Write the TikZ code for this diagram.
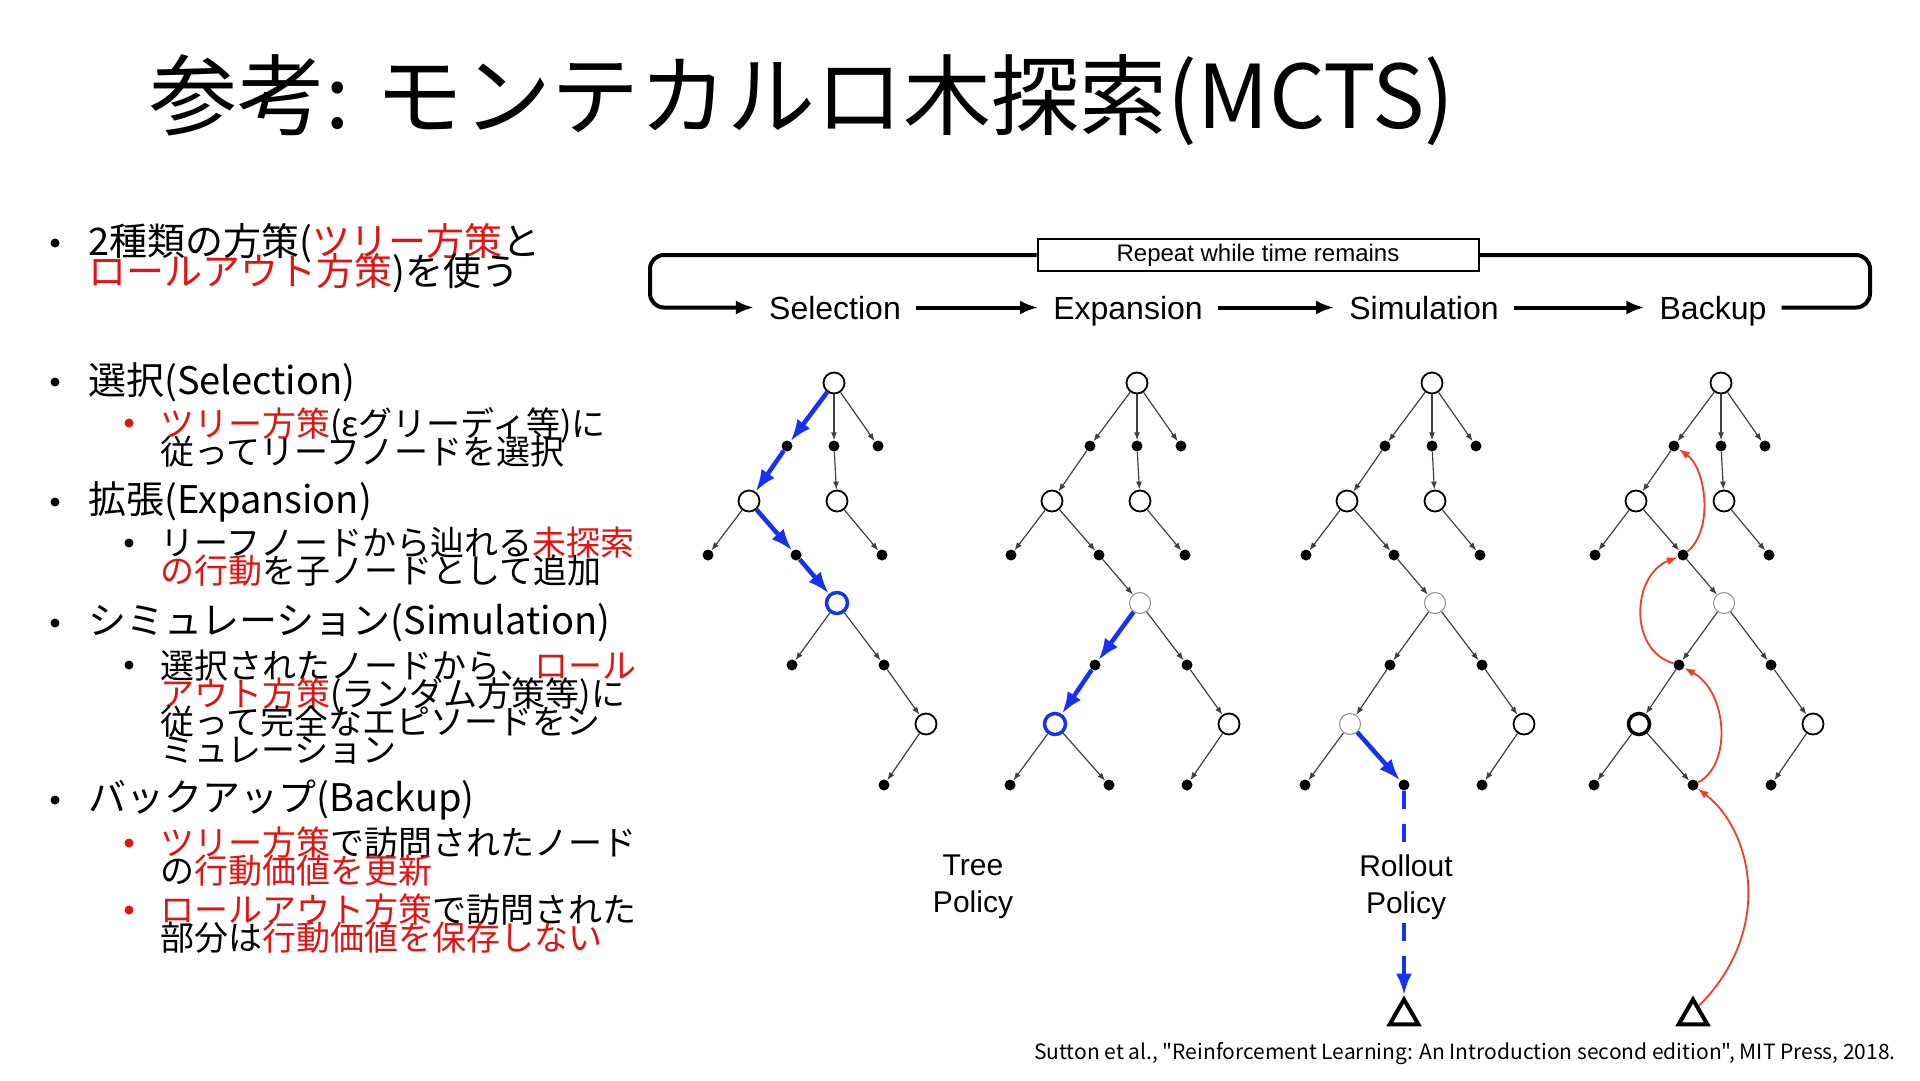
\documentclass[tikz,border=0pt]{standalone}
\usepackage{fontspec}
\setmainfont{Noto Sans CJK JP}
\newfontfamily\hv{Liberation Sans}
\newfontfamily\citefont[Ligatures=TeXOff]{Noto Sans CJK JP}
\usetikzlibrary{arrows.meta,shapes.geometric,positioning}
\definecolor{mctsblue}{RGB}{20,50,240}
\definecolor{mctsred}{RGB}{240,60,40}
\definecolor{txtred}{RGB}{225,20,20}
\newcommand{\rt}[1]{\textcolor{txtred}{#1}}
\newcommand{\tightlines}{\lineskiplimit=-60pt\relax\lineskip=0pt\relax}
% one search tree, #1 name prefix, #2 root x, #3 style of the third state
\newcommand{\mctstree}[3]{%
  \node[state] (#1r) at (#2,383) {};
  \node[act] (#1a1) at ({#2-47},446) {};
  \node[act] (#1a2) at (#2,446) {};
  \node[act] (#1a3) at ({#2+44},446) {};
  \node[state] (#1s1) at ({#2-85},501) {};
  \node[state] (#1s2) at ({#2+3},501) {};
  \node[act] (#1b1) at ({#2-126},555) {};
  \node[act] (#1b2) at ({#2-38},555) {};
  \node[act] (#1b3) at ({#2+48},555) {};
  \node[#3] (#1s3) at ({#2+3},603) {};
  \node[act] (#1c1) at ({#2-42},665) {};
  \node[act] (#1c2) at ({#2+50},665) {};
  \node[state] (#1s5) at ({#2+92},724) {};
  \node[act] (#1d3) at ({#2+50},785) {};
}
\def\basicedges{r/a2,r/a3,a2/s2,s1/b1,s2/b3,s3/c2,c2/s5,s5/d3}
\def\pathedges{r/a1,a1/s1,s1/b2,b2/s3}

\begin{document}
\begin{tikzpicture}[
  x=1pt, y=-1pt,
  state/.style={circle, draw, line width=1.8pt, fill=white, minimum size=21pt, inner sep=0pt},
  faded/.style={state, draw=black!45, line width=1pt},
  bluestate/.style={state, draw=mctsblue, line width=3.5pt},
  boldstate/.style={state, line width=3.5pt},
  act/.style={circle, fill=black, minimum size=11pt, inner sep=0pt},
  terminal/.style={regular polygon, regular polygon sides=3, draw, line width=4pt,
    minimum size=33pt, inner sep=0pt},
  edge/.style={draw=black!75, line width=1.2pt, -{Latex[length=8pt,width=6pt]}},
  sel/.style={draw=mctsblue, line width=4.5pt, -{Latex[length=22pt,width=16pt]}},
  roll/.style={sel, dash pattern=on 18pt off 15pt},
  back/.style={draw=mctsred, line width=1.8pt, -{Latex[length=11pt,width=8pt]}},
  stage/.style={font=\hv\fontsize{32}{36}\selectfont, anchor=base, inner xsep=15pt,
    inner ysep=0pt, text height=23pt, text depth=0pt},
  loopline/.style={line width=4pt, rounded corners=14pt},
  flow/.style={line width=4pt, -{Latex[length=18pt,width=14pt]}},
  pol/.style={font=\hv\fontsize{30}{37}\selectfont, align=center, inner sep=2pt},
  item/.style={anchor=west, align=left, inner sep=0pt,
    font=\fontsize{38}{30}\selectfont\tightlines},
  subitem/.style={anchor=west, align=left, inner sep=0pt,
    font=\fontsize{34}{28}\selectfont\tightlines},
  bul/.style={circle, fill=black, minimum size=9pt, inner sep=0pt},
  rbul/.style={bul, fill=txtred}
]
\useasboundingbox (0,0) rectangle (1920,1080);

\node[anchor=west, inner sep=0pt, font=\fontsize{88}{100}\selectfont] (title) at (149,100)
  {参考: モンテカルロ木探索(MCTS)};

% left column
\node[bul] (p1) at (55,243) {};
\node[item] (t1) at (88,258) {2種類の方策(\rt{ツリー方策}と\\\rt{ロールアウト方策})を使う};
\node[bul] (p2) at (55,382) {};
\node[item] (t2) at (88,382) {選択(Selection)};
\node[rbul] (q2) at (129,423) {};
\node[subitem] (u2) at (160,437) {\rt{ツリー方策}(εグリーディ等)に\\従ってリーフノードを選択};
\node[bul] (p3) at (55,502) {};
\node[item] (t3) at (88,502) {拡張(Expansion)};
\node[bul] (q3) at (129,543) {};
\node[subitem] (u3) at (160,557) {リーフノードから辿れる\rt{未探索}\\\rt{の行動}を子ノードとして追加};
\node[bul] (p4) at (55,623) {};
\node[item] (t4) at (88,623) {シミュレーション(Simulation)};
\node[bul] (q4) at (129,665) {};
\node[subitem] (u4) at (160,707) {選択されたノードから、\rt{ロール}\\\rt{アウト方策}(ランダム方策等)に\\従って完全なエピソードをシ\\ミュレーション};
\node[bul] (p5) at (55,800) {};
\node[item] (t5) at (88,800) {バックアップ(Backup)};
\node[rbul] (q5) at (129,843) {};
\node[subitem] (u5) at (160,857) {\rt{ツリー方策}で訪問されたノード\\の\rt{行動価値を更新}};
\node[rbul] (q6) at (129,910) {};
\node[subitem] (u6) at (160,924) {\rt{ロールアウト方策}で訪問された\\部分は\rt{行動価値を保存しない}};

% cycle header
\node[draw, line width=2pt, minimum width=441pt, minimum height=32pt, inner sep=0pt,
  font=\hv\fontsize{24}{28}\selectfont] (repeat) at (1258,255) {Repeat while time remains};
\node[stage] (hdsel) at (835,319) {Selection};
\node[stage] (hdexp) at (1128,319) {Expansion};
\node[stage] (hdsim) at (1424,319) {Simulation};
\node[stage] (hdbak) at (1713,319) {Backup};
\foreach \f/\t in {hdsel/hdexp, hdexp/hdsim, hdsim/hdbak}
  \draw[flow] (\f) -- (\t);
\draw[loopline, -{Latex[length=18pt,width=14pt]}] (repeat.west) -- (650,255) -- (650,307.5) -- (hdsel.west);
\draw[loopline] (repeat.east) -- (1870,255) -- (1870,307.5) -- (hdbak.east);

% selection
\mctstree{sel}{834}{bluestate}
\foreach \f/\t in \basicedges \draw[edge] (sel\f) -- (sel\t);
\draw[edge] (sels3) -- (selc1);
\foreach \f/\t in \pathedges \draw[sel] (sel\f) -- (sel\t);
\node[pol] (treepol) at (973,887) {Tree\\Policy};

% expansion
\mctstree{exp}{1137}{faded}
\node[bluestate] (exps4) at (1055,724) {};
\node[act] (expd1) at (1010,785) {};
\node[act] (expd2) at (1109,785) {};
\foreach \f/\t in \basicedges \draw[edge] (exp\f) -- (exp\t);
\foreach \f/\t in \pathedges \draw[edge] (exp\f) -- (exp\t);
\draw[edge] (exps4) -- (expd1);
\draw[edge] (exps4) -- (expd2);
\draw[sel] (exps3) -- (expc1);
\draw[sel] (expc1) -- (exps4);

% simulation
\mctstree{sim}{1432}{faded}
\node[faded] (sims4) at (1350,724) {};
\node[act] (simd1) at (1305,785) {};
\node[act] (simd2) at (1404,785) {};
\foreach \f/\t in \basicedges \draw[edge] (sim\f) -- (sim\t);
\foreach \f/\t in \pathedges \draw[edge] (sim\f) -- (sim\t);
\draw[edge] (sims3) -- (simc1);
\draw[edge] (simc1) -- (sims4);
\draw[edge] (sims4) -- (simd1);
\draw[sel] (sims4) -- (simd2);
\node[terminal] (simend) at (1404,1016) {};
\draw[roll] (simd2) -- (simend.corner 1);
\node[pol, fill=white] (rollpol) at (1406,887) {Rollout\\Policy};

% backup
\mctstree{bak}{1721}{faded}
\node[boldstate] (baks4) at (1639,724) {};
\node[act] (bakd1) at (1594,785) {};
\node[act] (bakd2) at (1693,785) {};
\foreach \f/\t in \basicedges \draw[edge] (bak\f) -- (bak\t);
\foreach \f/\t in \pathedges \draw[edge] (bak\f) -- (bak\t);
\draw[edge] (baks3) -- (bakc1);
\draw[edge] (bakc1) -- (baks4);
\draw[edge] (baks4) -- (bakd1);
\draw[edge] (baks4) -- (bakd2);
\node[terminal] (bakend) at (1693,1016) {};
\draw[back] (bakend.60) .. controls (1775,930) and (1752,830) .. (bakd2);
\draw[back] (bakd2) .. controls (1732,765) and (1728,692) .. (bakc1);
\draw[back] (bakc1) .. controls (1628,650) and (1632,575) .. (bakb2);
\draw[back] (bakb2) .. controls (1714,530) and (1706,468) .. (baka1);

\node[anchor=east, inner sep=0pt, font=\citefont\fontsize{21}{24}\selectfont] (cite) at (1896,1054)
  {Sutton et al., "Reinforcement Learning: An Introduction second edition", MIT Press, 2018.};
\end{tikzpicture}
\end{document}
